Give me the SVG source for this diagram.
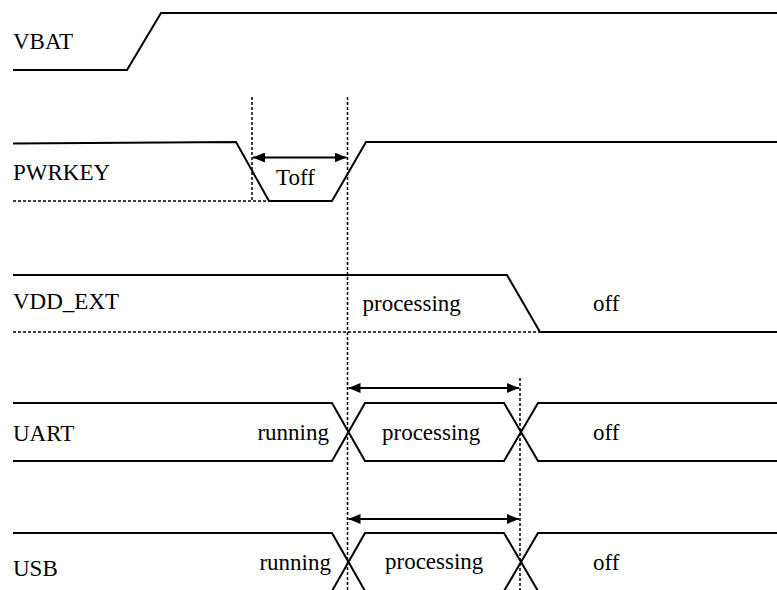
<svg xmlns="http://www.w3.org/2000/svg" width="777" height="590" viewBox="0 0 777 590">
<style>
.sig{fill:none;stroke:#000;stroke-width:2;stroke-linejoin:miter}
.dot{fill:none;stroke:#000;stroke-width:1.5;stroke-dasharray:3 2}
.arr{fill:none;stroke:#000;stroke-width:2;marker-start:url(#ah);marker-end:url(#ah)}
.t{font-family:'Liberation Serif','Times New Roman',Times,'DejaVu Serif',serif;font-size:23px;fill:#000}
</style>
<defs>
<marker id="ah" viewBox="0 0 12 10" refX="12" refY="5" markerWidth="12" markerHeight="10" markerUnits="userSpaceOnUse" orient="auto-start-reverse">
<path d="M0,0 L12,5 L0,10 Z" fill="#000"/>
</marker>
</defs>
<rect width="777" height="590" fill="#fff"/>
<g id="connectors">
<line class="dot" x1="252" y1="97" x2="252" y2="201"/>
<line class="dot" x1="347.5" y1="97" x2="347.5" y2="590"/>
<line class="dot" x1="520" y1="378" x2="520" y2="590"/>
<line class="arr" x1="253" y1="157.5" x2="346.5" y2="157.5"/>
<line class="arr" x1="348.5" y1="388" x2="519" y2="388"/>
<line class="arr" x1="348.5" y1="519" x2="519" y2="519"/>
</g>
<g id="vbat">
<text class="t" font-family="Liberation Serif, serif" x="13" y="49">VBAT</text>
<polyline class="sig" points="13,70 127,70 161,13 777,13"/>
</g>
<g id="pwrkey">
<text class="t" x="13" y="180">PWRKEY</text>
<line class="dot" x1="13" y1="201" x2="269" y2="201"/>
<polyline class="sig" points="13,143.5 236,142 269,201 332,201 366,142 777,142"/>
<text class="t" x="295.5" y="185" text-anchor="middle">Toff</text>
</g>
<g id="vdd_ext">
<text class="t" x="13" y="309">VDD_EXT</text>
<line class="dot" x1="13" y1="332" x2="540" y2="332"/>
<polyline class="sig" points="13,275 507,275 540,332 777,332"/>
<text class="t" x="362.5" y="311">processing</text>
<text class="t" x="593" y="311">off</text>
</g>
<g id="uart">
<text class="t" x="13" y="441">UART</text>
<polyline class="sig" points="13,403 332,403 365,461 504,461 538,403 777,403"/>
<polyline class="sig" points="13,461 332,461 365,403 504,403 538,461 777,461"/>
<text class="t" x="329" y="440" text-anchor="end">running</text>
<text class="t" x="382" y="440">processing</text>
<text class="t" x="593" y="440">off</text>
</g>
<g id="usb">
<text class="t" x="13" y="576">USB</text>
<polyline class="sig" points="13,533 332,533 365,591 504,591 538,533 777,533"/>
<polyline class="sig" points="13,591 332,591 365,533 504,533 538,591 777,591"/>
<text class="t" x="331" y="570" text-anchor="end">running</text>
<text class="t" x="385" y="569">processing</text>
<text class="t" x="593" y="570">off</text>
</g>
</svg>
